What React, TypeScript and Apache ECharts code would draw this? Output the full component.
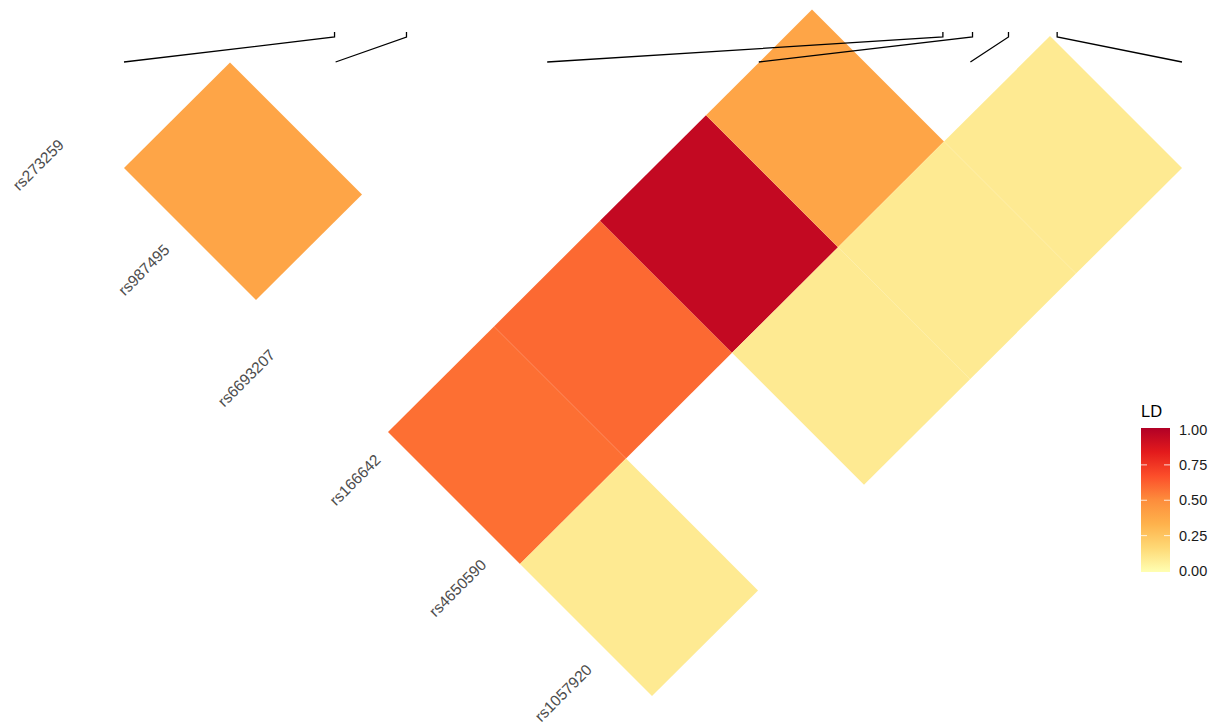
import React, { useEffect, useRef } from "react";
import * as echarts from "echarts";

// ---- data ----
const snpNames = ["rs273259", "rs987495", "rs6693207", "rs166642", "rs4650590", "rs1057920"];
// physical positions of the SNPs on the gene map (kb, map spans 0..100 kb)
const snpPosKb = [19.9, 26.7, 77.4, 80.2, 83.6, 88.2];
// LD cells of the rotated heat map: column, row, LD value
const ldCols = [0, 0, 1, 2, 3, 0, 2, 3, 4];
const ldRows = [0, 2, 2, 2, 2, 3, 3, 3, 3];
const ldValues = [0.39, 0.58, 0.595, 0.94, 0.39, 0.09, 0.09, 0.09, 0.09];
const legendTicks = [0, 0.25, 0.5, 0.75, 1];
const palette = ["#FFFFB2", "#FED976", "#FEB24C", "#FD8D3C", "#FC4E2A", "#E31A1C", "#B10026"];

// ---- layout (pixels) ----
const FONT = '"Liberation Sans", Arial, Helvetica, sans-serif';
const P0 = [124, 168];
const NE = [106, -105.6];
const SE = [132, 132];
const LABEL0 = [61, 142];
const LABEL_STEP = [105.6, 105];
const MAP_MAX = 100;

export default function App() {
  const ref = useRef<HTMLDivElement>(null);

  useEffect(() => {
    if (!ref.current) return;
    const chart = echarts.init(ref.current, null, { renderer: "svg" });

    const cellData = ldValues.map((v, k) => [ldCols[k], ldRows[k], v]);
    const mapData = snpPosKb.map((p, i) => [i, p]);
    const labelData = snpNames.map((_, i) => [i]);

    const barX = 1141, barW = 29, barTop = 428, barH = 144;
    const tickY = (t: number) => 571 - t * 141.5;

    const graphic: any[] = [
      {
        type: "text",
        x: barX,
        y: 411,
        style: { text: "LD", fontSize: 16.5, fontFamily: FONT, fill: "#000", verticalAlign: "middle", align: "left" },
      },
      {
        type: "rect",
        shape: { x: barX, y: barTop, width: barW, height: barH },
        style: {
          fill: new echarts.graphic.LinearGradient(
            0, 1, 0, 0,
            palette.map((c, k) => ({ offset: k / (palette.length - 1), color: c }))
          ),
        },
      },
    ];
    legendTicks.forEach((t) => {
      const y = tickY(t);
      if (t > 0 && t < 1) {
        graphic.push({ type: "line", shape: { x1: barX, y1: y, x2: barX + 6, y2: y }, style: { stroke: "rgba(255,255,255,0.8)", lineWidth: 1 } });
        graphic.push({ type: "line", shape: { x1: barX + barW - 6, y1: y, x2: barX + barW, y2: y }, style: { stroke: "rgba(255,255,255,0.8)", lineWidth: 1 } });
      }
      graphic.push({
        type: "text",
        x: 1179,
        y,
        style: { text: t.toFixed(2), fontSize: 14.5, fontFamily: FONT, fill: "#1a1a1a", verticalAlign: "middle", align: "left" },
      });
    });

    const option: any = {
      animation: false,
      backgroundColor: "#ffffff",
      grid: [
        { left: 0, top: 0, right: 0, bottom: 0 },
        { left: 124, top: 32, width: 1058, height: 30 },
      ],
      xAxis: [
        { type: "value", gridIndex: 0, min: 0, max: 1212, show: false },
        { type: "value", gridIndex: 1, min: 0, max: MAP_MAX, show: false },
      ],
      yAxis: [
        { type: "value", gridIndex: 0, min: 0, max: 726, inverse: true, show: false },
        { type: "value", gridIndex: 1, min: 0, max: 1.2, show: false },
      ],
      visualMap: {
        type: "continuous",
        show: false,
        min: 0,
        max: 1,
        dimension: 2,
        seriesIndex: 0,
        inRange: { color: palette },
      },
      graphic,
      series: [
        {
          type: "custom",
          name: "LD",
          xAxisIndex: 0,
          yAxisIndex: 0,
          data: cellData,
          renderItem: (_p: any, api: any) => {
            const u = api.value(0);
            const r = api.value(1);
            const pt = (a: number, b: number) =>
              api.coord([P0[0] + a * NE[0] + b * SE[0], P0[1] + a * NE[1] + b * SE[1]]);
            return {
              type: "polygon",
              shape: { points: [pt(u, r), pt(u + 1, r), pt(u + 1, r + 1), pt(u, r + 1)] },
              style: { fill: api.visual("color") },
            };
          },
        },
        {
          type: "custom",
          name: "map",
          xAxisIndex: 1,
          yAxisIndex: 1,
          data: mapData,
          renderItem: (_p: any, api: any) => {
            const i = api.value(0);
            const pos = api.value(1);
            const step = MAP_MAX / (snpNames.length - 1);
            return {
              type: "polyline",
              shape: { points: [api.coord([i * step, 0]), api.coord([pos, 1]), api.coord([pos, 1.2])] },
              style: { stroke: "#000", lineWidth: 1.3, fill: null },
            };
          },
        },
        {
          type: "custom",
          name: "labels",
          xAxisIndex: 0,
          yAxisIndex: 0,
          data: labelData,
          renderItem: (_p: any, api: any) => {
            const i = api.value(0);
            const c = api.coord([LABEL0[0] + i * LABEL_STEP[0], LABEL0[1] + i * LABEL_STEP[1]]);
            return {
              type: "text",
              x: c[0],
              y: c[1],
              rotation: Math.PI / 4,
              style: {
                text: snpNames[i],
                align: "right",
                verticalAlign: "middle",
                fill: "#4D4D4D",
                fontSize: 15.5,
                fontFamily: FONT,
              },
            };
          },
        },
      ],
    };

    chart.setOption(option);
    return () => chart.dispose();
  }, []);

  return (
    <div
      ref={ref}
      style={{ position: "fixed", left: 0, top: 0, width: 1212, height: 726, background: "#fff" }}
    />
  );
}
